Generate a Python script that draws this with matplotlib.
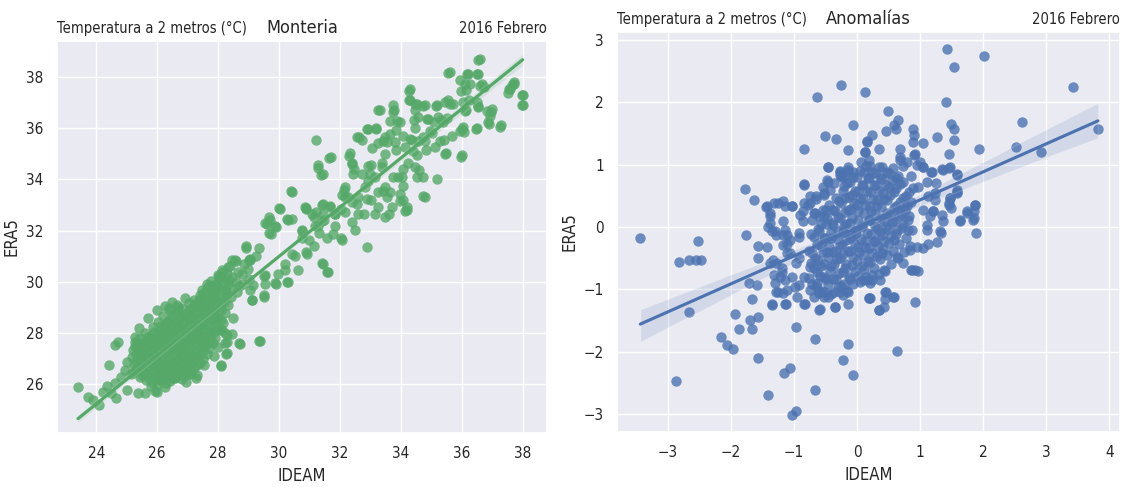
import numpy as np
import matplotlib
matplotlib.use("Agg")
import matplotlib.pyplot as plt
import seaborn as sns

# Monteria, temperatura a 2 m (IDEAM vs ERA5)
mont_ideam = [
    # lower tail
    23.40, 23.73, 23.89, 24.10, 24.22, 24.42, 24.49, 24.60, 24.71, 24.66,
    25.01, 25.01, 24.82, 24.60, 25.37, 25.61, 25.99, 26.30, 25.40, 25.26,
    25.99, 26.41, 26.68, 27.28, 28.10, 28.71, 29.39, 28.27, 28.22, 28.05,
    24.95, 25.15, 24.35, 25.80, 26.10, 26.60, 26.95, 27.10, 27.55, 27.85,
    28.00, 27.70, 28.30, 28.45, 28.15, 28.50, 26.25, 26.90, 26.50, 25.70,
    # dense core
    25.20, 25.25, 25.18, 25.22, 25.28,
    25.42, 25.38, 25.45, 25.40, 25.36, 25.44,
    25.62, 25.58, 25.65, 25.60, 25.57, 25.63, 25.60,
    25.82, 25.78, 25.85, 25.80, 25.76, 25.83, 25.80, 25.86,
    26.02, 25.98, 26.05, 26.00, 25.96, 26.04, 26.00, 26.06, 26.02,
    26.22, 26.18, 26.25, 26.20, 26.16, 26.24, 26.20, 26.26, 26.18,
    26.42, 26.38, 26.45, 26.40, 26.36, 26.44, 26.40, 26.46, 26.38,
    26.62, 26.58, 26.65, 26.60, 26.56, 26.64, 26.60, 26.66, 26.58,
    26.82, 26.78, 26.85, 26.80, 26.76, 26.84, 26.80, 26.86, 26.78, 26.82,
    27.02, 26.98, 27.05, 27.00, 26.96, 27.04, 27.00, 27.06, 26.98,
    27.22, 27.18, 27.25, 27.20, 27.16, 27.24, 27.20, 27.26, 27.18, 27.22,
    27.42, 27.38, 27.45, 27.40, 27.36, 27.44, 27.40, 27.46, 27.38, 27.42,
    27.62, 27.58, 27.65, 27.60, 27.56, 27.64, 27.60, 27.66, 27.58, 27.62,
    27.82, 27.78, 27.85, 27.80, 27.76, 27.84, 27.80, 27.86, 27.78,
    28.02, 27.98, 28.05, 28.00, 27.96, 28.04,
    28.22, 28.18, 28.25, 28.20, 28.16,
    28.42, 28.38, 28.45, 28.40,
    28.62, 28.58, 28.65, 28.60,
    28.82, 28.78, 28.85,
    29.02, 28.98, 29.05,
    # core, second layer
    25.31, 25.29, 25.32, 25.28,
    25.51, 25.49, 25.52, 25.48, 25.50,
    25.71, 25.69, 25.72, 25.68, 25.70, 25.71,
    25.91, 25.89, 25.92, 25.88, 25.90, 25.91, 25.89,
    26.11, 26.09, 26.12, 26.08, 26.10, 26.11, 26.09, 26.12,
    26.31, 26.29, 26.32, 26.28, 26.30, 26.31, 26.29, 26.32,
    26.51, 26.49, 26.52, 26.48, 26.50, 26.51, 26.49, 26.52, 26.48,
    26.71, 26.69, 26.72, 26.68, 26.70, 26.71, 26.69, 26.72, 26.68,
    26.91, 26.89, 26.92, 26.88, 26.90, 26.91, 26.89, 26.92,
    27.11, 27.09, 27.12, 27.08, 27.10, 27.11, 27.09, 27.12, 27.08,
    27.31, 27.29, 27.32, 27.28, 27.30, 27.31, 27.29, 27.32, 27.28,
    27.51, 27.49, 27.52, 27.48, 27.50, 27.51, 27.49, 27.52, 27.48,
    27.71, 27.69, 27.72, 27.68, 27.70, 27.71, 27.69, 27.72, 27.68,
    27.91, 27.89, 27.92, 27.88, 27.90, 27.91, 27.89, 27.92,
    28.11, 28.09, 28.12, 28.08, 28.10,
    28.31, 28.29, 28.32, 28.28,
    # middle and upper part
    27.87, 27.98, 28.33, 28.57, 28.92, 29.04, 29.10, 29.15, 29.50, 29.55,
    29.53, 29.71, 29.59, 29.74, 29.91, 29.97, 30.03, 30.30, 30.41, 30.41,
    30.21, 30.30, 29.89, 30.44, 30.62, 30.74, 30.89, 30.91, 31.00, 31.15,
    31.20, 31.29, 31.43, 31.43, 31.61, 31.43, 31.49, 31.70, 31.78, 31.85,
    32.08, 32.14, 32.32, 32.38, 32.43, 32.26, 32.50, 32.55, 32.61, 32.73,
    32.79, 32.90, 33.02, 32.93, 33.20, 33.02, 33.14, 33.26, 33.31, 33.37,
    33.49, 33.49, 33.61, 33.78, 33.84, 33.84, 33.90, 33.96, 34.07, 34.19,
    34.25, 34.31, 34.31, 34.37, 34.43, 34.48, 34.54, 34.54, 34.60, 34.72,
    34.78, 34.84, 34.78, 34.90, 35.02, 35.19, 35.19, 35.31, 35.43, 35.48,
    35.54, 35.62, 35.69, 35.72, 35.95, 36.01, 36.01, 36.07, 36.13, 36.19,
    36.13, 36.25, 36.48, 36.54, 36.54, 36.60, 36.66, 36.72, 36.95, 37.00,
    36.89, 37.30, 37.60, 37.66, 37.71, 38.00, 38.00,
    30.38, 29.99, 29.66, 29.55, 29.88, 30.27, 30.87, 31.20, 31.42, 31.69,
    32.07, 32.18, 31.85, 32.02, 31.58, 31.30, 31.14, 30.76, 30.54, 30.87,
    31.42, 31.58, 30.21, 30.26, 29.88, 29.50, 29.50, 29.12, 29.06, 28.90,
    29.00, 29.23, 29.34, 29.66, 28.46, 28.13, 28.02, 28.35, 28.68, 28.24,
    27.80, 27.47, 27.37, 27.69, 27.91, 28.13, 28.30, 28.24, 28.68, 29.34,
    28.30, 28.08, 27.31, 26.87, 26.27, 25.94, 26.38, 26.65, 27.04,
    31.65, 31.27, 31.38, 32.30, 32.38, 32.47, 32.55, 32.71, 32.88, 33.18,
    33.26, 33.06, 32.93, 32.99, 33.37, 33.48, 33.42, 33.75, 33.75, 33.87,
    33.97, 33.64, 33.64, 33.53, 33.80, 34.08, 34.13, 34.28, 34.28, 34.46,
    34.55, 34.46, 34.30, 34.57, 34.41, 34.74, 34.85, 34.96, 34.79, 35.17,
    35.23, 35.39, 35.45, 35.61, 35.28, 35.12, 35.45, 35.94, 35.99, 36.05,
    36.10, 36.05, 36.49, 36.49, 36.54, 36.82, 36.93, 36.87, 37.25, 36.10,
    35.99, 35.56, 36.16, 36.49, 36.54, 36.27, 36.60, 37.53, 37.70, 37.97,
    37.97, 37.56, 35.50, 35.10, 34.74, 34.74, 34.46, 34.52, 34.03, 34.08,
    33.75, 33.64, 34.08, 33.97, 34.13, 34.19, 33.42, 33.53, 33.70, 33.26,
    32.93, 32.88, 33.26, 33.15, 33.48, 32.60, 32.38, 32.60, 32.82, 32.16,
    32.16, 32.38, 32.05, 31.84, 31.67, 31.45, 31.40, 31.29, 30.85, 31.07,
    31.18, 30.74,
]
mont_era5 = [
    25.89, 25.50, 25.39, 25.19, 25.71, 26.75, 25.68, 27.53, 27.66, 25.45,
    25.78, 26.86, 26.30, 26.04, 25.65, 25.68, 25.69, 26.04, 28.18, 27.86,
    28.92, 28.92, 29.03, 26.23, 26.71, 27.57, 27.70, 27.18, 27.99, 28.12,
    26.55, 26.40, 25.95, 25.95, 26.15, 26.25, 26.10, 26.40, 26.75, 27.10,
    27.45, 27.60, 27.65, 27.95, 28.40, 28.60, 29.05, 29.35, 29.20, 28.60,
    26.45, 26.75, 27.05, 27.35, 27.65,
    26.30, 26.62, 26.95, 27.22, 27.52, 27.80,
    26.18, 26.50, 26.82, 27.10, 27.42, 27.70, 28.02,
    26.10, 26.40, 26.72, 27.00, 27.30, 27.62, 27.90, 28.22,
    26.02, 26.32, 26.60, 26.92, 27.20, 27.50, 27.80, 28.10, 28.42,
    26.20, 26.52, 26.80, 27.12, 27.40, 27.72, 28.00, 28.30, 28.68,
    26.12, 26.40, 26.72, 27.00, 27.32, 27.60, 27.92, 28.20, 28.52,
    26.30, 26.62, 26.90, 27.22, 27.50, 27.80, 28.12, 28.40, 28.78,
    26.22, 26.50, 26.82, 27.10, 27.42, 27.70, 28.02, 28.30, 28.62, 28.98,
    26.42, 26.70, 27.02, 27.30, 27.62, 27.90, 28.22, 28.50, 28.80,
    26.62, 26.92, 27.20, 27.52, 27.80, 28.12, 28.40, 28.72, 29.00, 29.30,
    26.82, 27.12, 27.40, 27.72, 28.00, 28.32, 28.60, 28.92, 29.20, 29.50,
    27.20, 27.52, 27.80, 28.12, 28.40, 28.72, 29.00, 29.32, 29.60, 29.90,
    27.62, 27.90, 28.22, 28.50, 28.82, 29.10, 29.42, 29.70, 30.02,
    28.20, 28.60, 29.00, 29.40, 29.80, 30.20,
    28.80, 29.20, 29.60, 30.00, 30.40,
    29.40, 29.80, 30.20, 30.60,
    29.60, 30.00, 30.40, 30.80,
    29.90, 30.30, 30.70,
    30.10, 30.50, 30.90,
    26.60, 26.90, 27.20, 27.50,
    26.35, 26.65, 26.98, 27.28, 27.62,
    26.30, 26.62, 26.92, 27.22, 27.55, 27.85,
    26.20, 26.52, 26.82, 27.12, 27.42, 27.75, 28.05,
    26.15, 26.45, 26.75, 27.05, 27.35, 27.65, 27.95, 28.28,
    26.30, 26.62, 26.92, 27.25, 27.55, 27.85, 28.15, 28.45,
    26.25, 26.55, 26.85, 27.15, 27.45, 27.75, 28.05, 28.35, 28.65,
    26.40, 26.72, 27.02, 27.35, 27.65, 27.95, 28.25, 28.55, 28.85,
    26.55, 26.85, 27.15, 27.45, 27.75, 28.05, 28.38, 28.68,
    26.55, 26.85, 27.15, 27.45, 27.75, 28.05, 28.35, 28.65, 28.95,
    26.75, 27.05, 27.35, 27.65, 27.95, 28.25, 28.55, 28.85, 29.15,
    27.00, 27.30, 27.60, 27.90, 28.20, 28.50, 28.80, 29.10, 29.40,
    27.40, 27.70, 28.00, 28.30, 28.60, 28.90, 29.20, 29.50, 29.80,
    27.80, 28.10, 28.40, 28.70, 29.00, 29.30, 29.60, 29.90,
    28.50, 28.90, 29.30, 29.70, 30.10,
    29.10, 29.50, 29.90, 30.30,
    29.54, 30.26, 30.58, 30.84, 31.33, 30.84, 29.28, 29.87, 29.41, 29.93,
    30.26, 32.40, 32.27, 31.88, 32.14, 30.32, 32.86, 32.40, 32.47, 33.51,
    30.71, 30.00, 29.93, 31.10, 30.45, 32.01, 32.86, 31.10, 31.62, 32.53,
    35.53, 34.55, 34.22, 30.71, 30.39, 33.03, 32.40, 34.88, 31.88, 32.66,
    31.62, 33.57, 35.01, 34.62, 34.22, 33.31, 32.01, 33.05, 35.66, 34.22,
    32.66, 31.36, 33.18, 35.98, 35.98, 34.55, 34.10, 35.40, 36.70, 34.62,
    35.66, 33.70, 32.66, 36.70, 35.92, 35.14, 34.10, 33.44, 33.18, 32.79,
    34.62, 37.54, 37.09, 35.53, 36.31, 36.70, 36.96, 34.94, 34.36, 35.66,
    33.31, 35.14, 36.89, 36.37, 35.79, 34.03, 36.89, 36.31, 35.53, 35.01,
    37.09, 38.20, 35.68, 36.96, 37.87, 35.98, 34.94, 35.85, 36.70, 38.13,
    37.48, 37.09, 35.98, 36.83, 38.13, 38.68, 37.74, 37.61, 36.63, 36.76,
    36.18, 36.11, 37.54, 37.67, 37.80, 37.28, 36.89,
    33.55, 32.87, 32.55, 32.29, 32.16, 32.44, 32.87, 32.74, 33.00, 32.94,
    33.39, 32.74, 32.16, 31.70, 31.70, 31.90, 31.38, 31.70, 30.99, 31.18,
    30.73, 30.40, 30.47, 30.01, 29.95, 30.21, 29.49, 29.30, 29.69, 31.38,
    30.86, 30.99, 31.31, 31.90, 30.86, 30.47, 30.21, 30.08, 29.82, 29.69,
    29.82, 29.69, 29.30, 29.04, 28.65, 28.13, 27.94, 27.61, 27.61, 27.68,
    27.22, 26.77, 26.38, 26.38, 25.88, 25.73, 28.97, 29.10, 29.17,
    34.83, 34.44, 34.18, 34.92, 34.60, 34.40, 35.64, 35.53, 35.96, 36.00,
    36.71, 35.22, 34.53, 34.21, 34.47, 34.99, 35.50, 36.91, 36.61, 36.29,
    36.22, 36.29, 35.77, 35.44, 35.44, 35.70, 35.25, 37.45, 37.09, 36.94,
    36.42, 36.00, 35.57, 35.51, 35.12, 36.87, 36.35, 35.90, 35.51, 36.87,
    36.42, 36.22, 37.00, 36.94, 35.51, 35.25, 34.99, 35.90, 34.86, 36.03,
    36.68, 37.00, 37.00, 36.00, 36.87, 36.68, 36.48, 36.22, 36.05, 37.71,
    37.45, 38.14, 38.10, 38.10, 38.65, 37.74, 37.65, 37.39, 37.74, 37.30,
    36.91, 37.52, 36.38, 36.22, 34.08, 33.36, 34.47, 34.08, 34.08, 34.40,
    34.08, 33.49, 33.75, 33.17, 32.78, 32.91, 33.56, 33.30, 32.91, 33.49,
    33.95, 33.23, 32.91, 32.65, 32.52, 33.30, 33.10, 32.65, 33.69, 33.30,
    33.69, 32.32, 32.84, 32.65, 32.97, 32.65, 32.39, 32.19, 32.91, 32.65,
    32.19, 32.00,
]

# Anomalias (IDEAM vs ERA5)
anom_ideam = [
    # lower left
    -3.44, -2.82, -2.67, -2.56, -2.48, -2.53, -2.67, -2.87, -1.77, -1.58,
    -1.58, -1.72, -1.59, -1.67, -1.94, -1.88, -1.67, -1.57, -1.70, -2.16,
    -2.06, -1.97, -1.57, -1.41, -1.16, -1.07, -1.04, -0.97, -0.97, -0.67,
    -0.67, -0.15, -0.22, -0.06, 0.18, -1.39, -1.31, -1.38, -1.32, -1.28,
    -1.13, -1.35, -1.17, -1.14, -0.98, -0.82, -0.61, -0.96, -0.69, -0.53,
    -0.35, -0.15, -0.22, -0.64, -0.85, -1.04, -1.22, -1.20, -1.12, -1.33,
    -1.17, -1.06, -0.93, -1.12, -1.28, -0.97, -0.92, -0.75,
    # upper left
    -1.78, -1.63, -1.44, -1.38, -1.32, -1.17, -1.04, -0.85, -0.84, -0.63,
    -0.51, -0.34, -0.26, -0.47, -0.15, -0.07, 0.12, -0.15, 0.15, -0.27,
    -0.86, -0.75, -0.67, -0.53, -0.86, -1.17, -0.53, -0.46, -0.22, -0.07,
    # upper right
    1.43, 2.02, 1.53, 3.43, 1.41, 2.62, 3.82, 2.52, 2.92, 1.93,
    0.49, 0.64, 0.59, 0.62, 0.45, 0.23, 0.16, 0.88, 0.90, 0.88,
    1.05, 1.27, 1.49, 1.54, 1.54, 1.45, 0.12, 0.35, 0.68, 0.68,
    0.91, 0.85, 0.73, 1.00, 1.05, 1.17, 1.36, 1.47, 1.59, 1.25,
    1.48, 1.58, 1.59, 1.45, 1.49, 1.74, 1.87, 1.86, 1.63, 1.83,
    1.10, 0.97, 1.13, 1.24, 1.05, 1.16, 1.34, 1.10,
    # lower right
    1.89, 1.33, 1.26, 1.13, 1.04, 0.87, 0.96, 0.63, 0.92, 0.57,
    0.44, 0.43, 0.34, 0.20, 0.72, 0.63, 0.39, 0.42, 0.37, 0.15,
    0.23, 0.84, 0.58, 0.81, 1.21, 1.36, 1.32, 1.11, 0.95,
    # ring round the core
    -0.85, -0.47, -0.27, -0.15, 0.12, 0.19, 0.68, 0.90, 0.79, 0.95,
    1.04, 1.19, 1.34, 1.45, 1.58, 1.59, 1.47, 1.45, 1.24, 1.21,
    1.87, 1.74, 1.85, 1.63, 0.92, 0.85, 0.46, 0.58, 0.44, 0.34,
    0.19, 0.20, 0.10, -0.14, -0.27, -0.35, -0.59, -0.85, -0.61, -0.46,
    -0.75, -0.93, -1.12, -1.14, -1.25, -1.35, -1.30, -1.20, -1.28, -1.43,
    -1.41, -1.43, -1.25, -1.14, -1.04, -1.38, -1.35, -1.14, -1.17, -1.12,
    -1.06, -0.93, -0.90, -0.85, -0.75, -0.66, -0.54, -0.48, -0.27,
    # dense core
    -0.76, -0.73, -0.77, -0.74, -0.72, -0.78,
    -0.66, -0.63, -0.67, -0.64, -0.62, -0.68, -0.65,
    -0.56, -0.53, -0.57, -0.54, -0.52, -0.58, -0.55, -0.53,
    -0.46, -0.43, -0.47, -0.44, -0.42, -0.48, -0.45, -0.43,
    -0.36, -0.33, -0.37, -0.34, -0.32, -0.38, -0.35, -0.33, -0.36,
    -0.26, -0.23, -0.27, -0.24, -0.22, -0.28, -0.25, -0.23, -0.26,
    -0.16, -0.13, -0.17, -0.14, -0.12, -0.18, -0.15, -0.13, -0.16, -0.14,
    -0.06, -0.03, -0.07, -0.04, -0.02, -0.08, -0.05, -0.03, -0.06,
    0.04, 0.07, 0.03, 0.06, 0.08, 0.02, 0.05, 0.07, 0.04, 0.06,
    0.14, 0.17, 0.13, 0.16, 0.18, 0.12, 0.15, 0.17, 0.14,
    0.24, 0.27, 0.23, 0.26, 0.28, 0.22, 0.25, 0.27, 0.24,
    0.34, 0.37, 0.33, 0.36, 0.38, 0.32, 0.35, 0.37, 0.34,
    0.44, 0.47, 0.43, 0.46, 0.48, 0.42, 0.45, 0.47,
    0.54, 0.57, 0.53, 0.56, 0.58, 0.52, 0.55, 0.57,
    0.64, 0.67, 0.63, 0.66, 0.68, 0.62, 0.65,
    0.74, 0.77, 0.73, 0.76, 0.78, 0.72,
    0.84, 0.87, 0.83, 0.86, 0.88,
    # core, second layer (fills the gaps)
    -0.71, -0.69, -0.72, -0.68,
    -0.61, -0.59, -0.62, -0.58, -0.61, -0.60,
    -0.51, -0.49, -0.52, -0.48, -0.51, -0.50, -0.49,
    -0.41, -0.39, -0.42, -0.38, -0.41, -0.40, -0.39,
    -0.31, -0.29, -0.32, -0.28, -0.31, -0.30, -0.29,
    -0.21, -0.19, -0.22, -0.18, -0.21, -0.20, -0.19, -0.21,
    -0.11, -0.09, -0.12, -0.08, -0.11, -0.10, -0.09, -0.11,
    0.01, -0.01, 0.02, -0.02, 0.01, 0.00, 0.01, -0.01,
    0.11, 0.09, 0.12, 0.08, 0.11, 0.10, 0.09, 0.11,
    0.21, 0.19, 0.22, 0.18, 0.21, 0.20, 0.19, 0.21,
    0.31, 0.29, 0.32, 0.28, 0.31, 0.30, 0.29,
    0.41, 0.39, 0.42, 0.38, 0.41, 0.40, 0.39,
    0.51, 0.49, 0.52, 0.48, 0.51, 0.50,
    0.61, 0.59, 0.62, 0.58, 0.61,
    0.71, 0.69, 0.72, 0.68,
    0.81, 0.79, 0.82,
]
anom_era5 = [
    -0.18, -0.56, -0.53, -0.53, -0.53, -0.22, -1.36, -2.47, -0.13, -0.30,
    -0.49, -0.90, -0.93, -1.15, -1.39, -1.63, -1.64, -1.45, -1.49, -1.76,
    -1.89, -1.96, -2.11, -2.70, -2.35, -2.27, -3.01, -2.95, -1.60, -1.80,
    -2.62, -1.88, -2.14, -2.38, -1.14, 0.06, -0.07, -0.58, -0.77, -1.05,
    -1.23, -1.23, -1.06, -0.85, -0.96, -1.23, -1.33, -1.12, -1.12, -1.12,
    -1.28, -1.23, -1.09, -0.90, -0.80, -0.80, -0.80, -0.66, -0.42, -0.53,
    -0.29, -0.21, -0.10, -0.13, -0.13, -0.58, -0.49, -0.64,
    0.61, 0.44, 0.32, 0.22, 0.38, 0.41, 0.33, 0.69, 1.25, 2.08,
    1.46, 1.42, 2.28, 0.97, 1.24, 1.64, 2.16, 0.97, 1.37, 0.89,
    0.25, 0.38, 0.22, 0.54, 0.09, 0.09, 0.17, 0.73, 0.81, 0.89,
    2.85, 2.75, 2.57, 2.24, 2.01, 1.68, 1.58, 1.29, 1.21, 1.25,
    1.87, 1.72, 1.63, 1.57, 1.54, 1.48, 1.38, 1.57, 1.48, 1.37,
    1.35, 1.44, 1.65, 1.57, 1.40, 1.17, 1.21, 1.26, 1.25, 1.13,
    1.17, 0.82, 0.98, 1.05, 0.97, 0.89, 0.91, 0.96, 0.85, 0.71,
    0.46, 0.55, 0.60, 0.38, 0.30, 0.25, 0.35, 0.25, 0.10, 0.11,
    0.73, 0.65, 0.49, 0.54, 0.27, 0.17, 0.19, 0.03,
    -0.09, -0.09, -0.24, -0.27, -0.34, -0.69, -0.70, -1.99, -1.20, -1.13,
    -1.05, -1.29, -1.33, -1.14, -0.57, -0.48, -0.42, -0.69, -0.85, -0.85,
    -0.77, -0.37, -0.21, -0.05, 0.25, 0.09, -0.07, -0.05, -0.32,
    0.67, 0.96, 0.90, 0.91, 1.21, 1.08, 1.08, 1.16, 1.05, 1.00,
    0.97, 0.89, 0.93, 0.94, 0.83, 0.57, 0.46, 0.35, 0.43, 0.25,
    0.36, 0.22, 0.14, 0.11, -0.69, -0.69, -1.04, -1.12, -1.16, -1.33,
    -1.14, -0.90, -0.85, -1.04, -1.04, -1.28, -1.31, -1.23, -1.06, -1.12,
    -1.01, -0.93, -1.01, -1.23, -1.04, -1.25, -0.90, -0.72, -0.58, -0.32,
    0.00, 0.33, 0.38, 0.33, 0.33, 0.17, -0.07, -0.05, -0.13, -0.27,
    -0.42, -0.16, 0.19, 0.38, 0.49, 0.49, 0.65, 0.75, 0.83,
    -0.82, -0.58, -0.38, -0.12, 0.12, 0.36,
    -0.95, -0.72, -0.50, -0.27, -0.03, 0.22, 0.45,
    -1.02, -0.80, -0.62, -0.40, -0.18, 0.05, 0.28, 0.52,
    -0.92, -0.70, -0.48, -0.30, -0.08, 0.14, 0.36, 0.60,
    -1.05, -0.83, -0.60, -0.38, -0.20, 0.03, 0.25, 0.47, 0.70,
    -0.95, -0.72, -0.50, -0.28, -0.08, 0.15, 0.38, 0.58, 0.80,
    -1.02, -0.80, -0.60, -0.38, -0.18, 0.05, 0.27, 0.48, 0.70, 0.88,
    -0.92, -0.70, -0.48, -0.28, -0.05, 0.15, 0.38, 0.58, 0.80,
    -0.88, -0.62, -0.40, -0.20, 0.02, 0.25, 0.47, 0.68, 0.90, 1.05,
    -0.80, -0.55, -0.32, -0.10, 0.12, 0.35, 0.58, 0.78, 0.98,
    -0.85, -0.65, -0.42, -0.22, 0.02, 0.25, 0.45, 0.68, 0.88,
    -0.75, -0.52, -0.30, -0.08, 0.14, 0.36, 0.58, 0.80, 0.97,
    -0.70, -0.45, -0.22, 0.00, 0.22, 0.45, 0.68, 0.88,
    -0.60, -0.38, -0.15, 0.08, 0.30, 0.52, 0.75, 0.95,
    -0.50, -0.28, -0.05, 0.18, 0.40, 0.62, 0.82,
    -0.40, -0.18, 0.05, 0.28, 0.50, 0.72,
    -0.30, -0.05, 0.18, 0.40, 0.62,
    -0.91, -0.66, -0.41, -0.16,
    -1.03, -0.78, -0.53, -0.30, -0.06, 0.17,
    -1.05, -0.83, -0.60, -0.40, -0.17, 0.05, 0.27,
    -1.07, -0.84, -0.62, -0.40, -0.17, 0.06, 0.28,
    -0.97, -0.74, -0.51, -0.29, -0.07, 0.16, 0.41,
    -0.91, -0.66, -0.44, -0.21, 0.02, 0.24, 0.46, 0.66,
    -0.83, -0.61, -0.38, -0.15, 0.07, 0.29, 0.52, 0.72,
    -0.78, -0.55, -0.32, -0.10, 0.12, 0.35, 0.58, 0.80,
    -0.67, -0.45, -0.22, 0.01, 0.23, 0.45, 0.68, 0.88,
    -0.56, -0.34, -0.12, 0.11, 0.34, 0.56, 0.78, 0.98,
    -0.46, -0.23, -0.01, 0.21, 0.44, 0.67, 0.87,
    -0.36, -0.13, 0.10, 0.32, 0.54, 0.77, 0.97,
    -0.25, -0.03, 0.20, 0.43, 0.65, 0.87,
    -0.12, 0.10, 0.33, 0.56, 0.78,
    -0.01, 0.21, 0.46, 0.69,
    0.12, 0.34, 0.56,
]

left_titles = ["Temperatura a 2 metros (°C)", "Monteria", "2016 Febrero"]
right_titles = ["Temperatura a 2 metros (°C)", "Anomalías", "2016 Febrero"]

assert len(mont_ideam) == len(mont_era5)
assert len(anom_ideam) == len(anom_era5)

sns.set_theme(style="darkgrid")
plt.rcParams["font.family"] = ["DejaVu Sans"]
plt.rcParams["font.stretch"] = "condensed"

fig = plt.figure(figsize=(11.27, 4.87), dpi=100)
ax1 = fig.add_axes([0.0503, 0.1109, 0.4351, 0.8049])
ax2 = fig.add_axes([0.5475, 0.1129, 0.4463, 0.8214])

dots = {"s": 56, "linewidths": 0}
sns.regplot(x=np.array(mont_ideam), y=np.array(mont_era5), ax=ax1,
            color="#55a868", scatter_kws=dots, seed=3)
sns.regplot(x=np.array(anom_ideam), y=np.array(anom_era5), ax=ax2,
            color="#4c72b0", scatter_kws=dots, seed=3)

ax1.set_xlim(22.7, 38.8)
ax1.set_ylim(24.1, 39.4)
ax1.set_xticks(np.arange(24, 39, 2))
ax1.set_yticks(np.arange(26, 39, 2))
ax2.set_xlim(-3.81, 4.17)
ax2.set_ylim(-3.29, 3.13)
ax2.set_xticks(np.arange(-3, 5, 1))
ax2.set_yticks(np.arange(-3, 4, 1))

for ax, titles in [(ax1, left_titles), (ax2, right_titles)]:
    ax.set_xlabel("IDEAM", fontsize=12)
    ax.set_ylabel("ERA5", fontsize=12)
    ax.tick_params(labelsize=11)
    ax.set_title(titles[0], loc="left", fontsize=10.5)
    ax.set_title(titles[1], fontsize=13)
    ax.set_title(titles[2], loc="right", fontsize=10.5)

fig.savefig("out.png", dpi=100)
